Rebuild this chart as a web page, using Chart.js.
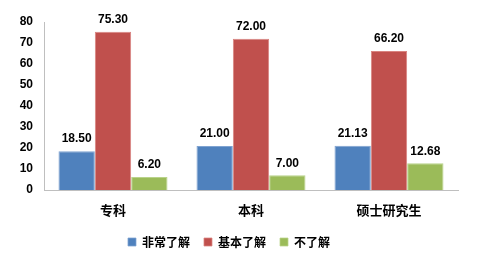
<!DOCTYPE html>
<html>
<head>
<meta charset="utf-8">
<script src="https://cdn.jsdelivr.net/npm/chart.js@4"></script>
<style>
  html, body { margin: 0; padding: 0; background: #fff; }
  #wrap { width: 480px; height: 272px; }
</style>
</head>
<body>
<div id="wrap"><canvas id="chart" width="480" height="272"></canvas></div>
<script>
// chart data
const categories = ["专科", "本科", "硕士研究生"];
const seriesNames = ["非常了解", "基本了解", "不了解"];
const veryFamiliar = [18.5, 21.0, 21.13];
const basicFamiliar = [75.3, 72.0, 66.2];
const notFamiliar = [6.2, 7.0, 12.68];
const yTicks = [0, 10, 20, 30, 40, 50, 60, 70, 80];

const colors = ["#4F81BD", "#C0504D", "#9BBB59"];
const edges = ["#7FA3D1", "#D98480", "#B9D38A"];
const cjkFont = "'Noto Sans CJK SC', 'DejaVu Sans', sans-serif";

// draw value labels above each bar
const valueLabels = {
  id: "valueLabels",
  afterDatasetsDraw(chart) {
    const ctx = chart.ctx;
    ctx.save();
    ctx.font = "bold 12px 'Liberation Sans', Arial, sans-serif";
    ctx.fillStyle = "#000";
    ctx.textAlign = "center";
    ctx.textBaseline = "middle";
    chart.data.datasets.forEach((ds, i) => {
      chart.getDatasetMeta(i).data.forEach((bar, j) => {
        ctx.fillText(ds.data[j].toFixed(2), bar.x, bar.y - 12);
      });
    });
    ctx.restore();
  },
};

const ctx = document.getElementById("chart").getContext("2d");

new Chart(ctx, {
  type: "bar",
  data: {
    labels: categories,
    datasets: [veryFamiliar, basicFamiliar, notFamiliar].map((d, i) => ({
      label: seriesNames[i],
      data: d,
      backgroundColor: colors[i],
      borderColor: edges[i],
      borderWidth: { top: 1, left: 1, right: 1, bottom: 0 },
      categoryPercentage: 0.79,
      barPercentage: 1.0,
    })),
  },
  options: {
    responsive: false,
    animation: false,
    layout: { padding: { left: 0, right: 22, top: 22, bottom: 14 } },
    scales: {
      x: {
        grid: { display: false, drawTicks: false },
        border: { color: "#BFBFBF", width: 1 },
        afterFit: (axis) => {
          axis.height = 32;
        },
        ticks: {
          color: "#000",
          padding: 12,
          font: { family: cjkFont, size: 13, weight: "bold" },
        },
      },
      y: {
        min: 0,
        max: 80,
        afterBuildTicks: (axis) => {
          axis.ticks = yTicks.map((v) => ({ value: v }));
        },
        afterFit: (axis) => {
          axis.width = 44;
        },
        grid: { display: false, drawTicks: false },
        border: { color: "#BFBFBF", width: 1 },
        ticks: {
          color: "#000",
          padding: 11,
          font: { family: "'Liberation Sans', Arial, sans-serif", size: 12, weight: "bold" },
        },
      },
    },
    plugins: {
      legend: {
        position: "bottom",
        labels: {
          color: "#000",
          boxWidth: 8,
          boxHeight: 8,
          padding: 14,
          font: { family: cjkFont, size: 12, weight: "bold" },
        },
      },
      tooltip: { enabled: false },
    },
  },
  plugins: [valueLabels],
});
</script>
</body>
</html>
